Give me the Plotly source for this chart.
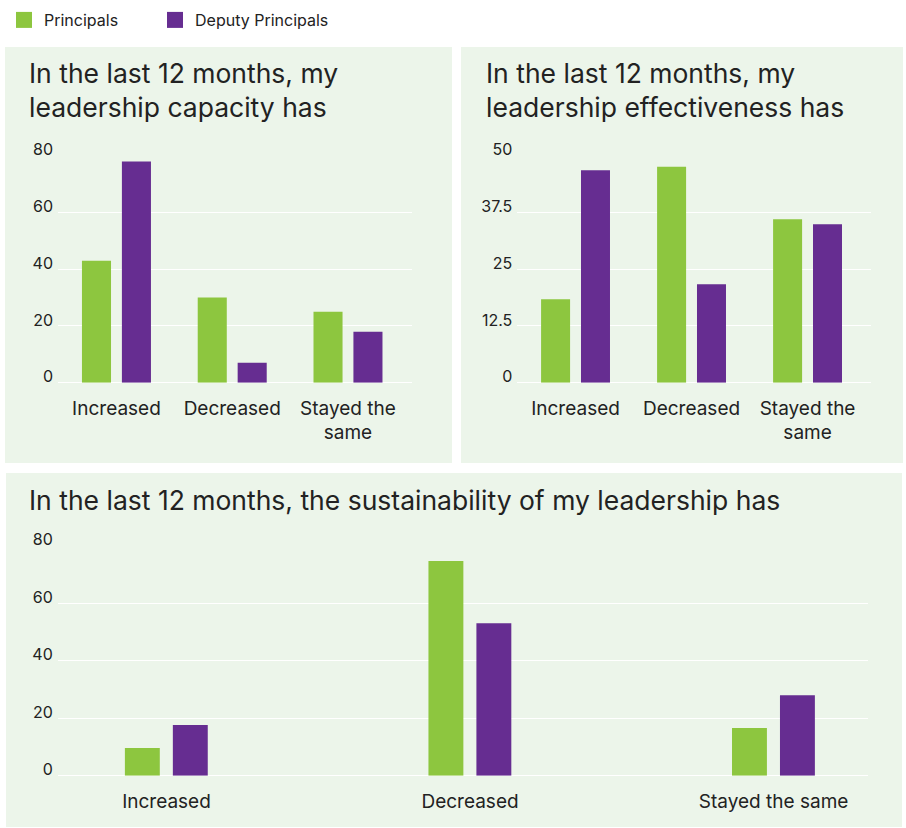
import plotly.graph_objects as go

# ---------------- data ----------------
categories = ["Increased", "Decreased", "Stayed the same"]
tick_labels_wrapped = ["Increased", "Decreased", "Stayed the<br>same"]
tick_labels_flat = ["Increased", "Decreased", "Stayed the same"]

series_names = ["Principals", "Deputy Principals"]

capacity_principals = [43, 30, 25]
capacity_deputies = [78, 7, 18]

effectiveness_principals = [18.4, 47.6, 36.0]
effectiveness_deputies = [46.8, 21.7, 34.9]

sustainability_principals = [9.6, 74.7, 16.6]
sustainability_deputies = [17.6, 53.0, 28.0]

capacity_ticks = [0, 20, 40, 60, 80]
effectiveness_ticks = [0, 12.5, 25, 37.5, 50]
sustainability_ticks = [0, 20, 40, 60, 80]

titles = [
    "In the last 12 months, my<br>leadership capacity has",
    "In the last 12 months, my<br>leadership effectiveness has",
    "In the last 12 months, the sustainability of my leadership has",
]

# ---------------- style ----------------
W, H = 906, 828
GREEN = "#8DC63F"
PURPLE = "#662D91"
PANEL_BG = "#ECF5EA"
TEXT = "#222222"
FONT = "Inter"


def fx(px):
    return px / W


def fy(py):
    return 1 - py / H


fig = go.Figure()

panels = [
    dict(xa="x", ya="y", p=capacity_principals, d=capacity_deputies,
         off=(-0.298, 0.047), width=0.251),
    dict(xa="x2", ya="y2", p=effectiveness_principals, d=effectiveness_deputies,
         off=(-0.297, 0.047), width=0.25),
    dict(xa="x3", ya="y3", p=sustainability_principals, d=sustainability_deputies,
         off=(-0.137, 0.021), width=0.115),
]

for pn in panels:
    for name, vals, col, off in [(series_names[0], pn["p"], GREEN, pn["off"][0]),
                                 (series_names[1], pn["d"], PURPLE, pn["off"][1])]:
        fig.add_trace(go.Bar(
            x=categories, y=vals, name=name, marker=dict(color=col, line=dict(width=0)),
            offset=off, width=pn["width"], xaxis=pn["xa"], yaxis=pn["ya"],
            showlegend=False,
        ))

# legend proxies (bigger squares), one legend each for exact placement
for name, col, lg in [(series_names[0], GREEN, "legend"), (series_names[1], PURPLE, "legend2")]:
    fig.add_trace(go.Scatter(
        x=[None], y=[None], mode="markers", name=name,
        marker=dict(symbol="square", size=18, color=col),
        xaxis="x", yaxis="y", showlegend=True, legend=lg,
    ))

# axes
x_dom_1 = [fx(58), fx(412)]
x_dom_2 = [fx(517.3), fx(871)]
x_dom_3 = [fx(57.8), fx(867.7)]
y_dom_top = [fy(382.7), fy(155.3)]
y_dom_bot = [fy(775.7), fy(545.3)]


def xaxis(dom, anchor, labels, rng):
    return dict(
        domain=dom, anchor=anchor, type="category", automargin=False,
        categoryorder="array", categoryarray=categories,
        tickmode="array", tickvals=categories, ticktext=labels,
        range=rng, showgrid=False, zeroline=False, showline=False,
        ticks="", ticklabelstandoff=12,
        tickfont=dict(family=FONT, size=19, color=TEXT), fixedrange=True,
    )


def yaxis(dom, anchor, ticks):
    return dict(
        domain=dom, anchor=anchor, range=[0, ticks[-1] * 1.002], automargin=False,
        tickmode="array", tickvals=ticks, ticktext=[f"{t:g}" for t in ticks],
        showgrid=True, gridcolor="#FFFFFF", gridwidth=1,
        zeroline=True, zerolinecolor="#FFFFFF", zerolinewidth=1,
        showline=False, ticks="", ticklabelposition="outside",
        ticklabelshift=-6, ticklabelstandoff=4,
        tickfont=dict(family=FONT, size=16, color=TEXT), fixedrange=True,
    )


fig.update_layout(
    xaxis=xaxis(x_dom_1, "y", tick_labels_wrapped, [-0.505, 2.553]),
    yaxis=yaxis(y_dom_top, "x", capacity_ticks),
    xaxis2=xaxis(x_dom_2, "y2", tick_labels_wrapped, [-0.502, 2.547]),
    yaxis2=yaxis(y_dom_top, "x2", effectiveness_ticks),
    xaxis3=xaxis(x_dom_3, "y3", tick_labels_flat, [-0.358, 2.31]),
    yaxis3=yaxis(y_dom_bot, "x3", sustainability_ticks),
)

# panel backgrounds
shapes = []
for (x0, y0, x1, y1) in [(5, 47, 452, 463), (461, 47, 903, 463), (6, 473, 902, 827)]:
    shapes.append(dict(type="rect", xref="paper", yref="paper",
                       x0=fx(x0), x1=fx(x1), y0=fy(y1), y1=fy(y0),
                       fillcolor=PANEL_BG, line=dict(width=0), layer="below"))

annotations = []
for text, (x, y) in zip(titles, [(27, 55), (484, 55), (27, 482)]):
    annotations.append(dict(
        text=text, xref="paper", yref="paper", x=fx(x), y=fy(y),
        xanchor="left", yanchor="top", align="left", showarrow=False,
        font=dict(family=FONT, size=26.5, color=TEXT),
    ))

legend_common = dict(orientation="h", xanchor="left", yanchor="top",
                     xref="container", yref="container",
                     font=dict(family=FONT, size=16, color=TEXT),
                     bgcolor="rgba(0,0,0,0)", borderwidth=0)

fig.update_layout(
    width=W, height=H, margin=dict(l=0, r=0, t=0, b=0, autoexpand=False),
    paper_bgcolor="#FFFFFF", plot_bgcolor="rgba(0,0,0,0)",
    shapes=shapes, annotations=annotations,
    barmode="group",
    showlegend=True,
    legend=dict(x=fx(4), y=fy(3), **legend_common),
    legend2=dict(x=fx(155), y=fy(3), **legend_common),
    font=dict(family=FONT, color=TEXT),
)

fig.write_html("out.html", config={"displayModeBar": False},
               post_script="document.body.style.margin='0px';")
